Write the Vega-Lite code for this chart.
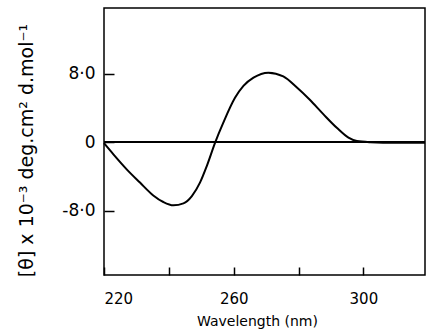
{
  "$schema": "https://vega.github.io/schema/vega-lite/v6.json",
  "autosize": "none",
  "width": 321,
  "height": 267,
  "padding": {"left": 104, "top": 8, "right": 1, "bottom": 60},
  "background": "white",
  "config": {
    "view": {"stroke": "black", "strokeWidth": 1.5},
    "font": "DejaVu Sans"
  },
  "data": {
    "values": [
      {"wl": 220, "theta": -0.1},
      {"wl": 222.9, "theta": -1.4},
      {"wl": 227.0, "theta": -3.15},
      {"wl": 231.1, "theta": -4.7},
      {"wl": 235.2, "theta": -6.2},
      {"wl": 238.3, "theta": -6.97},
      {"wl": 241.4, "theta": -7.36},
      {"wl": 244.5, "theta": -7.13},
      {"wl": 247.1, "theta": -6.27},
      {"wl": 249.6, "theta": -4.71},
      {"wl": 251.7, "theta": -2.77},
      {"wl": 254.3, "theta": 0},
      {"wl": 256.8, "theta": 2.3},
      {"wl": 260.4, "theta": 5.2},
      {"wl": 263.0, "theta": 6.6},
      {"wl": 266.1, "theta": 7.56},
      {"wl": 270.7, "theta": 8.14},
      {"wl": 275.3, "theta": 7.7},
      {"wl": 279.5, "theta": 6.4},
      {"wl": 283.4, "theta": 5.0},
      {"wl": 287.7, "theta": 3.27},
      {"wl": 291.8, "theta": 1.7},
      {"wl": 295.4, "theta": 0.55},
      {"wl": 298.0, "theta": 0.15},
      {"wl": 302.1, "theta": 0.02},
      {"wl": 310, "theta": -0.05},
      {"wl": 319, "theta": -0.05}
    ]
  },
  "layer": [
    {
      "mark": {"type": "line", "color": "black", "strokeWidth": 2, "interpolate": "monotone"},
      "encoding": {
        "x": {
          "field": "wl", "type": "quantitative",
          "scale": {"domain": [220, 319], "nice": false, "zero": false},
          "axis": {
            "values": [220, 240, 260, 280, 300],
            "labelExpr": "datum.value == 240 || datum.value == 280 ? '' : datum.label",
            "ticks": true, "tickSize": -8, "tickColor": "black", "tickWidth": 1.5, "tickOpacity": 1,
            "grid": false, "domain": false, "zindex": 2,
            "labelColor": "black", "labelFontSize": 15, "labelPadding": 24, "labelFlush": true,
            "title": "Wavelength (nm)", "titleColor": "black", "titleFontWeight": "normal",
            "titleFontSize": 14, "titlePadding": 8, "titleX": 153
          }
        },
        "y": {
          "field": "theta", "type": "quantitative",
          "scale": {"domain": [-15.5, 15.7], "nice": false},
          "axis": {
            "values": [-8, 0, 8],
            "labelExpr": "datum.value == 8 ? '8·0' : datum.value == -8 ? '-8·0' : '0'",
            "ticks": true, "tickSize": -10, "tickColor": "black", "tickWidth": 1.5, "tickOpacity": 1,
            "grid": false, "domain": false, "zindex": 2,
            "labelColor": "black", "labelFontSize": 17, "labelPadding": 19,
            "title": "[θ] x 10⁻³ deg.cm² d.mol⁻¹", "titleColor": "black", "titleFontWeight": "normal",
            "titleFontSize": 19, "titleX": -68, "titleY": 142
          }
        }
      }
    },
    {
      "mark": {"type": "rule", "color": "black", "strokeWidth": 1},
      "encoding": {"y": {"datum": 0, "type": "quantitative"}}
    }
  ]
}
